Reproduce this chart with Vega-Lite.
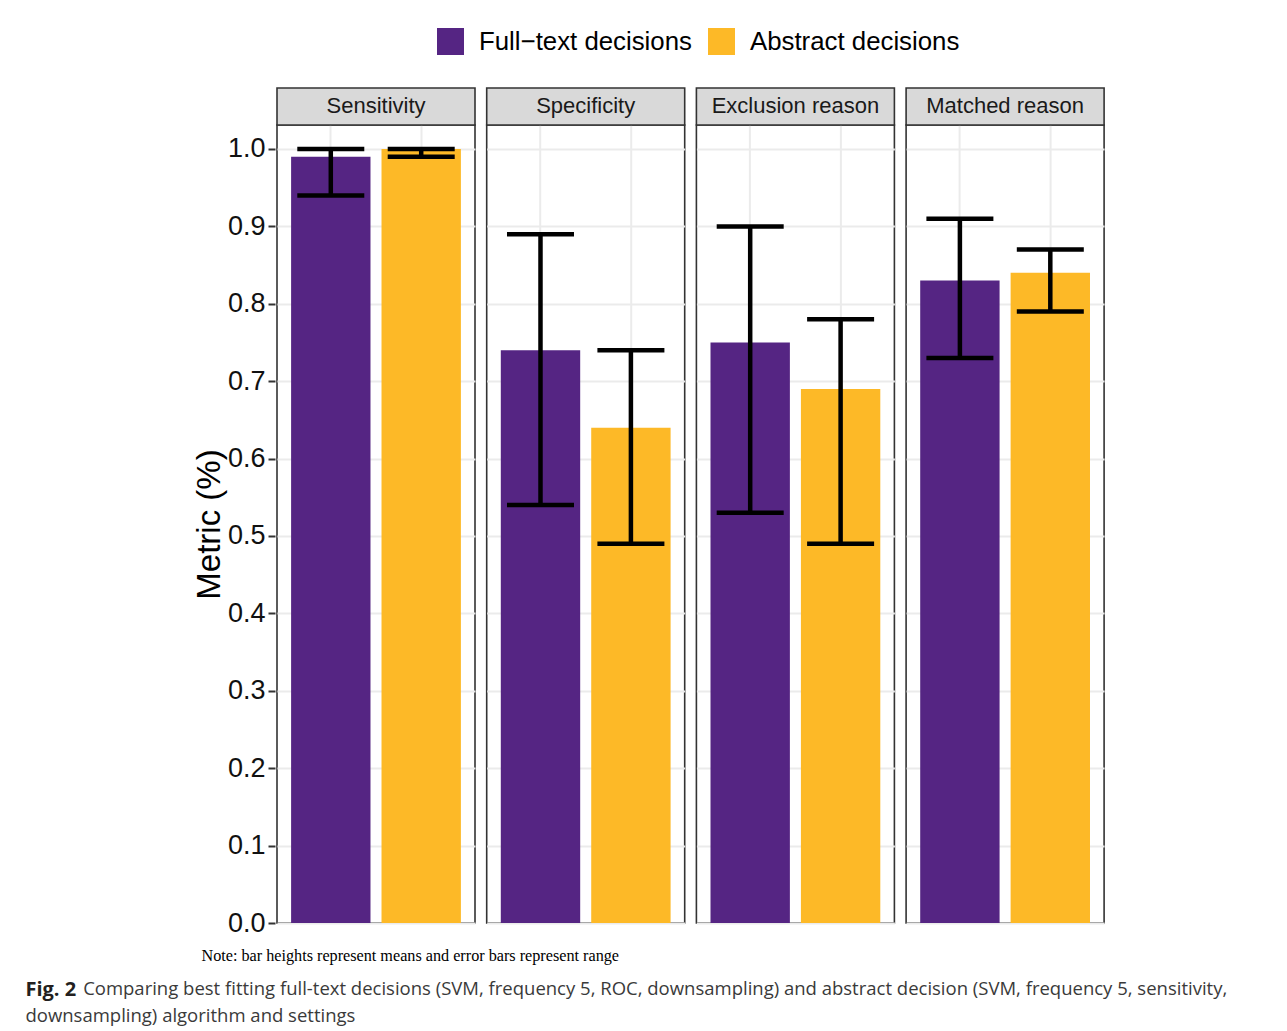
{
  "$schema": "https://vega.github.io/schema/vega-lite/v6.json",
  "background": "white",
  "padding": {"left": 25, "top": 28, "right": 10, "bottom": 6},
  "title": {
    "text": "Fig. 2",
    "subtitle": [
      "\u200b\u00a0\u00a0\u00a0\u00a0\u00a0\u00a0\u00a0\u00a0\u00a0\u00a0\u00a0\u00a0Comparing best fitting full-text decisions (SVM, frequency 5, ROC, downsampling) and abstract decision (SVM, frequency 5, sensitivity,",
      "downsampling) algorithm and settings"
    ],
    "orient": "bottom",
    "anchor": "start",
    "dx": -168,
    "offset": 16,
    "font": "Open Sans",
    "fontSize": 20,
    "fontWeight": "bold",
    "color": "#231f20",
    "lineHeight": 21,
    "subtitleFont": "Open Sans",
    "subtitleFontSize": 18.5,
    "subtitleColor": "#3a3a3a",
    "subtitleLineHeight": 27,
    "subtitlePadding": -20
  },
  "vconcat": [
    {
      "title": {
        "text": "Note: bar heights represent means and error bars represent range",
        "orient": "bottom",
        "anchor": "start",
        "dx": 8,
        "offset": 12,
        "font": "Liberation Serif",
        "fontSize": 16.2,
        "fontWeight": "normal",
        "color": "#000000"
      },
      "data": {
        "values": [
          {"metric": "Sensitivity", "decision": "Full\u2212text decisions", "mean": 0.99, "min": 0.94, "max": 1.0},
          {"metric": "Sensitivity", "decision": "Abstract decisions", "mean": 1.0, "min": 0.99, "max": 1.0},
          {"metric": "Specificity", "decision": "Full\u2212text decisions", "mean": 0.74, "min": 0.54, "max": 0.89},
          {"metric": "Specificity", "decision": "Abstract decisions", "mean": 0.64, "min": 0.49, "max": 0.74},
          {"metric": "Exclusion reason", "decision": "Full\u2212text decisions", "mean": 0.75, "min": 0.53, "max": 0.9},
          {"metric": "Exclusion reason", "decision": "Abstract decisions", "mean": 0.69, "min": 0.49, "max": 0.78},
          {"metric": "Matched reason", "decision": "Full\u2212text decisions", "mean": 0.83, "min": 0.73, "max": 0.91},
          {"metric": "Matched reason", "decision": "Abstract decisions", "mean": 0.84, "min": 0.79, "max": 0.87}
        ]
      },
      "facet": {
        "column": {
          "field": "metric",
          "type": "nominal",
          "sort": ["Sensitivity", "Specificity", "Exclusion reason", "Matched reason"],
          "header": {"labels": false, "title": null}
        }
      },
      "spacing": 7.7,
      "spec": {
        "width": 198,
        "height": 798,
        "layer": [
          {
            "mark": {"type": "bar"},
            "encoding": {
              "x": {
                "field": "decision",
                "type": "nominal",
                "sort": ["Full\u2212text decisions", "Abstract decisions"],
                "scale": {"paddingInner": 0.122, "paddingOuter": 0.156},
                "axis": {
                  "labels": false,
                  "ticks": false,
                  "domain": false,
                  "title": null,
                  "grid": true,
                  "gridColor": "#ebebeb",
                  "gridWidth": 2,
                  "bandPosition": 0.5
                }
              },
              "y": {
                "field": "mean",
                "type": "quantitative",
                "title": "Metric (%)",
                "scale": {"domain": [0, 1.031], "nice": false, "zero": true},
                "axis": {
                  "values": [0, 0.05, 0.1, 0.15, 0.2, 0.25, 0.3, 0.35, 0.4, 0.45, 0.5, 0.55, 0.6, 0.65, 0.7, 0.75, 0.8, 0.85, 0.9, 0.95, 1.0],
                  "labelExpr": "round(datum.value * 20) % 2 ? '' : format(datum.value, '.1f')",
                  "labelOverlap": false,
                  "labelFont": "Liberation Sans",
                  "labelFontSize": 27,
                  "labelColor": "#111111",
                  "labelPadding": 3,
                  "domain": false,
                  "tickColor": "#333333",
                  "tickWidth": 2,
                  "tickSize": 7,
                  "tickOpacity": {"condition": {"test": "round(datum.value * 20) % 2", "value": 0}, "value": 1},
                  "gridColor": "#ebebeb",
                  "gridWidth": {"condition": {"test": "round(datum.value * 20) % 2", "value": 1.2}, "value": 2},
                  "titleFont": "Liberation Sans",
                  "titleFontSize": 33,
                  "titleFontWeight": "normal",
                  "titleColor": "#000000",
                  "titlePadding": 1
                }
              },
              "color": {
                "field": "decision",
                "type": "nominal",
                "scale": {"domain": ["Full\u2212text decisions", "Abstract decisions"], "range": ["#552583", "#FDB927"]},
                "legend": {
                  "orient": "none",
                  "legendX": 160,
                  "legendY": -97,
                  "title": null,
                  "direction": "horizontal",
                  "symbolType": "square",
                  "symbolSize": 729,
                  "symbolStrokeWidth": 0,
                  "symbolOpacity": 1,
                  "labelFont": "Liberation Sans",
                  "labelFontSize": 25.8,
                  "labelColor": "#000000",
                  "labelLimit": 0,
                  "labelOffset": 15,
                  "columnPadding": 16
                }
              }
            }
          },
          {
            "mark": {"type": "rule", "color": "black", "strokeWidth": 4.5},
            "encoding": {
              "x": {"field": "decision", "type": "nominal", "sort": ["Full\u2212text decisions", "Abstract decisions"]},
              "y": {"field": "min", "type": "quantitative", "title": "Metric (%)"},
              "y2": {"field": "max"}
            }
          },
          {
            "mark": {"type": "tick", "color": "black", "orient": "horizontal", "size": 67, "thickness": 4.5, "opacity": 1},
            "encoding": {
              "x": {"field": "decision", "type": "nominal", "sort": ["Full\u2212text decisions", "Abstract decisions"]},
              "y": {"field": "min", "type": "quantitative", "title": "Metric (%)"}
            }
          },
          {
            "mark": {"type": "tick", "color": "black", "orient": "horizontal", "size": 67, "thickness": 4.5, "opacity": 1},
            "encoding": {
              "x": {"field": "decision", "type": "nominal", "sort": ["Full\u2212text decisions", "Abstract decisions"]},
              "y": {"field": "max", "type": "quantitative", "title": "Metric (%)"}
            }
          },
          {
            "transform": [{"filter": "datum.decision === 'Abstract decisions'"}],
            "mark": {"type": "rect", "fill": "#d9d9d9", "stroke": "#333333", "strokeWidth": 1.6, "clip": false},
            "encoding": {
              "y": {"datum": 1.031, "type": "quantitative", "title": "Metric (%)"},
              "y2": {"datum": 1.0788}
            }
          },
          {
            "transform": [{"filter": "datum.decision === 'Abstract decisions'"}],
            "mark": {"type": "text", "font": "Liberation Sans", "fontSize": 22, "color": "#1a1a1a", "baseline": "middle", "align": "center"},
            "encoding": {
              "y": {"datum": 1.055, "type": "quantitative", "title": "Metric (%)"},
              "text": {"field": "metric", "type": "nominal"}
            }
          }
        ]
      }
    }
  ],
  "config": {
    "view": {"stroke": "#333333", "strokeWidth": 1.6},
    "font": "Liberation Sans"
  }
}
